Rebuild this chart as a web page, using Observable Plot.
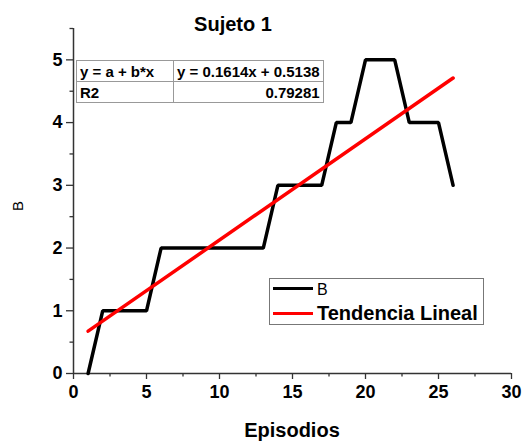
<!DOCTYPE html>
<html><head><meta charset="utf-8">
<script src="https://cdn.jsdelivr.net/npm/d3@7"></script>
<script src="https://cdn.jsdelivr.net/npm/@observablehq/plot@0.6"></script>
<style>
body{margin:0;background:#fff;font-family:"Liberation Sans",Arial,sans-serif;}
#wrap{position:relative;width:523px;height:441px;overflow:hidden;}
#wrap svg{position:absolute;left:0;top:0;}
.ov{position:absolute;color:#000;white-space:nowrap;}
#title{left:133px;width:200px;top:12px;text-align:center;font-weight:bold;font-size:20px;line-height:24px;}
#xlab{left:192px;width:200px;top:418px;text-align:center;font-weight:bold;font-size:20px;line-height:24px;}
#ylab{left:8px;top:196px;width:20px;height:20px;font-size:15px;line-height:20px;text-align:center;transform:rotate(-90deg);}
#tbl{left:76px;top:60px;border-collapse:collapse;font-weight:bold;font-size:15px;background:#fff;border:1.5px solid #888;}
#tbl td{border:1px solid #999;padding:0 3px;height:20px;line-height:19px;}
#legend{left:269px;top:278px;width:213px;height:45px;border:1px solid #777;background:#fff;}
.lg{position:absolute;left:3px;width:40px;height:0;border-top:3.5px solid #000;}
.lt{position:absolute;left:47px;}
</style></head><body>
<div id="wrap"></div>
<script>
// Data
const episodios = [1, 2, 5, 6, 13, 14, 17, 18, 19, 20, 22, 23, 25, 26];
const valoresB  = [0, 1, 1, 2, 2, 3, 3, 4, 4, 5, 5, 4, 4, 3];
const tendenciaX = [1, 26];
const tendenciaY = [0.675, 4.71];
const xTicks = [0, 5, 10, 15, 20, 25, 30];
const xMinor = [2.5, 7.5, 12.5, 17.5, 22.5, 27.5];
const yTicks = [0, 1, 2, 3, 4, 5];
const yMinor = [0.5, 1.5, 2.5, 3.5, 4.5, 5.5];
const tituloTexto = "Sujeto 1";
const xLabel = "Episodios";
const yLabel = "B";
const tablaFilas = [["y = a + b*x", "y = 0.1614x + 0.5138"], ["R2", "0.79281"]];
const leyenda = ["B", "Tendencia Lineal"];

const serieB = episodios.map((e, i) => ({x: e, y: valoresB[i]}));
const serieT = tendenciaX.map((e, i) => ({x: e, y: tendenciaY[i]}));

const axisColor = "#333";
const fmt = d3.format("d");
const chart = Plot.plot({
  width: 523,
  height: 441,
  marginLeft: 73,
  marginRight: 12,
  marginTop: 28,
  marginBottom: 68,
  x: {domain: [0, 30], axis: null},
  y: {domain: [0, 5.5], axis: null},
  style: {fontFamily: "'Liberation Sans', Arial, sans-serif", background: "transparent"},
  marks: [
    Plot.axisX({ticks: xMinor, tickSize: 3.5, tickFormat: () => "", stroke: axisColor, strokeWidth: 1.3, label: null}),
    Plot.axisY({ticks: yMinor, tickSize: 3.5, tickFormat: () => "", stroke: axisColor, strokeWidth: 1.3, label: null}),
    Plot.axisX({ticks: xTicks, tickSize: 6, tickPadding: 6, tickFormat: fmt, fontSize: 18, fontWeight: "bold", stroke: axisColor, fill: "#000", strokeWidth: 1.3, label: null}),
    Plot.axisY({ticks: yTicks, tickSize: 7, tickPadding: 4, tickFormat: fmt, fontSize: 18, fontWeight: "bold", stroke: axisColor, fill: "#000", strokeWidth: 1.3, label: null}),
    Plot.ruleY([0], {stroke: axisColor, strokeWidth: 1.5}),
    Plot.ruleX([0], {stroke: axisColor, strokeWidth: 1.5}),
    Plot.line(serieB, {x: "x", y: "y", stroke: "#000", strokeWidth: 3.5, strokeLinejoin: "miter"}),
    Plot.line(serieT, {x: "x", y: "y", stroke: "#ff0000", strokeWidth: 3.5})
  ]
});
const wrap = document.getElementById("wrap");
wrap.appendChild(chart);

function ov(id, html) {
  const d = document.createElement("div");
  d.id = id; d.className = "ov"; d.innerHTML = html;
  wrap.appendChild(d);
  return d;
}
ov("title", tituloTexto);
ov("xlab", xLabel);
ov("ylab", yLabel);

const t = document.createElement("table");
t.id = "tbl"; t.className = "ov";
tablaFilas.forEach((r, ri) => {
  const tr = document.createElement("tr");
  r.forEach((c, ci) => {
    const td = document.createElement("td");
    td.textContent = c;
    if (ci === 0) td.style.width = "90px";
    if (ri === 1 && ci === 1) td.style.textAlign = "right";
    tr.appendChild(td);
  });
  t.appendChild(tr);
});
wrap.appendChild(t);

const lg = ov("legend", "");
lg.innerHTML =
  `<div class="lg" style="top:8px;border-color:#000"></div>` +
  `<div class="lt" style="top:1px;font-size:16px;line-height:20px">${leyenda[0]}</div>` +
  `<div class="lg" style="top:33px;border-color:#ff0000"></div>` +
  `<div class="lt" style="top:22px;font-size:20px;line-height:24px;font-weight:bold">${leyenda[1]}</div>`;
</script>
</body></html>
